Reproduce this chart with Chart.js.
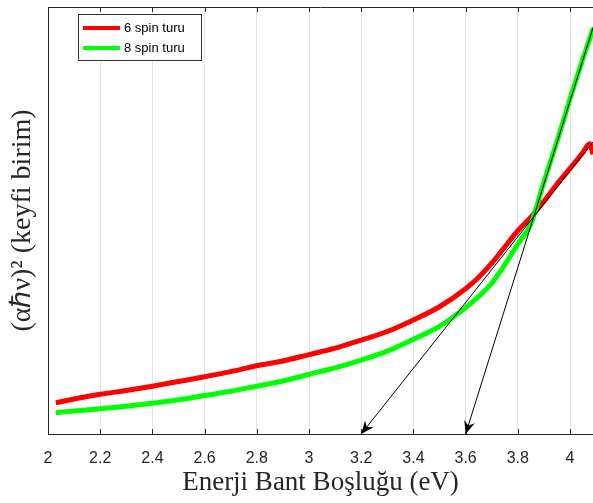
<!DOCTYPE html>
<html>
<head>
<meta charset="utf-8">
<script src="https://cdn.jsdelivr.net/npm/chart.js@4"></script>
<style>
  body { margin: 0; background: #fff; }
  #wrap { width: 593px; height: 503px; }
</style>
</head>
<body>
<div id="wrap"><canvas id="chart" width="593" height="503"></canvas></div>
<script>
// energy values (eV)
const energy = [2.03, 2.1, 2.2, 2.3, 2.4, 2.5, 2.6, 2.7, 2.8, 2.9, 3.0, 3.1, 3.2, 3.3, 3.4, 3.5,
  3.6, 3.65, 3.7, 3.75, 3.8, 3.85, 3.9, 3.95, 4.0, 4.05, 4.075, 4.088];
const spin6 = [0.073, 0.082, 0.093, 0.102, 0.112, 0.123, 0.134, 0.146, 0.160, 0.171, 0.186, 0.201,
  0.220, 0.240, 0.267, 0.298, 0.340, 0.367, 0.400, 0.438, 0.476, 0.508, 0.545, 0.585, 0.622, 0.660, 0.680, 0.655];
const spin8 = [0.050, 0.054, 0.059, 0.065, 0.072, 0.080, 0.090, 0.100, 0.112, 0.124, 0.140, 0.155,
  0.173, 0.194, 0.222, 0.252, 0.296, 0.322, 0.353, 0.396, 0.445, 0.492, 0.590, 0.685, 0.785, 0.880, 0.925, 0.950];
// tangent lines, last point is the arrow tip
const fit6X = [4.1, 3.2];
const fit6Y = [0.693, 0];
const fit8X = [4.1, 3.6];
const fit8Y = [0.975, 0];
const xTicks = [2, 2.2, 2.4, 2.6, 2.8, 3, 3.2, 3.4, 3.6, 3.8, 4];
const seriesNames = ["6 spin turu", "8 spin turu"];

const axisColor = "#262626";

function pts(xs, ys) {
  return xs.map((x, i) => ({ x: x, y: ys[i] }));
}

// top border, inward ticks, arrowheads and legend box
const extras = {
  id: "extras",
  afterDatasetsDraw(chart) {
    const ctx = chart.ctx;
    const a = chart.chartArea;
    const xs = chart.scales.x;
    const ys = chart.scales.y;
    ctx.save();
    ctx.strokeStyle = axisColor;
    ctx.lineWidth = 1;
    ctx.beginPath();
    ctx.moveTo(a.left, a.top + 0.5);
    ctx.lineTo(a.right, a.top + 0.5);
    xTicks.forEach((v) => {
      const px = Math.round(xs.getPixelForValue(v)) + 0.5;
      ctx.moveTo(px, a.top);
      ctx.lineTo(px, a.top + 5);
      ctx.moveTo(px, a.bottom);
      ctx.lineTo(px, a.bottom - 5);
    });
    ctx.stroke();

    // arrowheads
    [2, 3].forEach((di) => {
      const d = chart.data.datasets[di].data;
      const p0 = d[d.length - 2], p1 = d[d.length - 1];
      const x0 = xs.getPixelForValue(p0.x), y0 = ys.getPixelForValue(p0.y);
      const x1 = xs.getPixelForValue(p1.x), y1 = ys.getPixelForValue(p1.y);
      const ang = Math.atan2(y1 - y0, x1 - x0);
      const len = 13, half = 5.5, notch = 9;
      ctx.save();
      ctx.translate(x1, y1);
      ctx.rotate(ang);
      ctx.fillStyle = "#000";
      ctx.beginPath();
      ctx.moveTo(0, 0);
      ctx.lineTo(-len, -half);
      ctx.lineTo(-notch, 0);
      ctx.lineTo(-len, half);
      ctx.closePath();
      ctx.fill();
      ctx.restore();
    });

    // legend
    const lx = 78, ly = 14, lw = 123, lh = 46;
    ctx.fillStyle = "#fff";
    ctx.fillRect(lx, ly, lw, lh);
    ctx.strokeStyle = "#333";
    ctx.lineWidth = 1;
    ctx.strokeRect(lx + 0.5, ly + 0.5, lw, lh);
    ctx.font = "13px 'Liberation Sans', Arial, sans-serif";
    ctx.textBaseline = "middle";
    [0, 1].forEach((i) => {
      const ds = chart.data.datasets[i];
      const yy = ly + 14 + i * 20;
      ctx.strokeStyle = ds.borderColor;
      ctx.lineWidth = 4;
      ctx.beginPath();
      ctx.moveTo(lx + 5, yy);
      ctx.lineTo(lx + 42, yy);
      ctx.stroke();
      ctx.fillStyle = "#000";
      ctx.fillText(ds.label, lx + 46, yy);
    });
    ctx.restore();
  },
};

new Chart(document.getElementById("chart"), {
  type: "line",
  data: {
    datasets: [
      {
        label: seriesNames[0],
        data: pts(energy, spin6),
        borderColor: "#ff0000",
        borderWidth: 5,
        pointRadius: 0,
        cubicInterpolationMode: "monotone",
        order: 3,
      },
      {
        label: seriesNames[1],
        data: pts(energy, spin8),
        borderColor: "#00ff00",
        borderWidth: 5,
        pointRadius: 0,
        cubicInterpolationMode: "monotone",
        order: 2,
      },
      {
        label: "fit6",
        data: pts(fit6X, fit6Y),
        borderColor: "#000",
        borderWidth: 1,
        pointRadius: 0,
        order: 1,
      },
      {
        label: "fit8",
        data: pts(fit8X, fit8Y),
        borderColor: "#000",
        borderWidth: 1,
        pointRadius: 0,
        order: 1,
      },
    ],
  },
  options: {
    responsive: false,
    animation: false,
    layout: { padding: { top: 7, left: 0, right: 0, bottom: 0 } },
    plugins: { legend: { display: false }, tooltip: { enabled: false } },
    scales: {
      x: {
        type: "linear",
        min: 2,
        max: 4.088,
        afterBuildTicks: (s) => { s.ticks = xTicks.map((v) => ({ value: v })); },
        afterFit: (s) => { s.height = 69; },
        ticks: {
          padding: 15,
          color: axisColor,
          font: { family: "'Liberation Sans', Arial, sans-serif", size: 16 },
          callback: (v) => String(Math.round(v * 10) / 10),
          maxRotation: 0,
        },
        grid: { color: "#e3e3e3", drawTicks: false },
        border: { color: axisColor, width: 1 },
        title: {
          display: true,
          text: "Enerji Bant Boşluğu (eV)",
          color: "#262626",
          font: { family: "'Liberation Serif', 'Times New Roman', serif", size: 27 },
          padding: { top: 0, bottom: 4 },
        },
      },
      y: {
        min: 0,
        max: 1,
        afterFit: (s) => { s.width = 48; },
        ticks: { display: false },
        grid: { display: false, drawTicks: false },
        border: { color: axisColor, width: 1 },
        title: {
          display: true,
          text: "(αℏν)² (keyfi birim)",
          color: "#262626",
          font: { family: "'Liberation Serif', 'Times New Roman', serif", size: 28 },
          padding: { top: 6, bottom: 0 },
        },
      },
    },
  },
  plugins: [extras],
});
</script>
</body>
</html>
